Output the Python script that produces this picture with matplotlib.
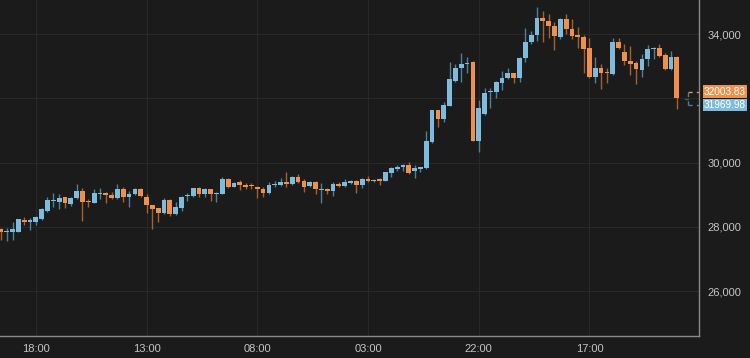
import numpy as np
import matplotlib
matplotlib.use("Agg")
import matplotlib.pyplot as plt

# hourly candles, first one at 12:00
opens = [27929, 27836, 27845, 27840, 28209, 28170, 28157, 28241, 28499, 28820,
         28779, 28916, 28708, 28885, 29122, 28801, 28739, 29030, 29050, 28988,
         28885, 29175, 28935, 29019, 29175, 28935, 28667, 28574, 28418, 28832,
         28387, 28593, 28955, 28957, 29196, 29019, 29175, 29030, 29019, 29477,
         29246, 29383, 29299, 29290, 29246, 29175, 29041, 29320, 29299, 29402,
         29321, 29558, 29424, 29268, 29402, 29165, 29175, 29112, 29310, 29278,
         29352, 29424, 29299, 29465, 29425, 29465, 29433, 29682, 29797, 29850,
         29922, 29744, 29788, 29819, 30647, 31634, 31345, 31768, 32546, 32932,
         33080, 33119, 30678, 31500, 32185, 32204, 32484, 32621, 32795, 32621,
         33244, 33760, 33969, 34489, 34405, 34249, 33916, 34457, 34146, 33950,
         33916, 33555, 32652, 32932, 32815, 32755, 33742, 33430, 33159, 33088,
         32879, 33222, 33524, 33574, 33346, 32910, 33293]
highs = [27960, 27960, 28157, 28250, 28303, 28272, 28344, 28583, 28935, 29050,
         29019, 28926, 28926, 29321, 29196, 28854, 29165, 29196, 29072, 29091,
         29330, 29228, 29112, 29215, 29196, 29019, 28686, 28593, 28885, 28863,
         28761, 28957, 29060, 29215, 29228, 29215, 29184, 29091, 29558, 29517,
         29402, 29455, 29352, 29352, 29268, 29246, 29383, 29424, 29508, 29713,
         29579, 29642, 29486, 29424, 29433, 29352, 29215, 29383, 29383, 29477,
         29455, 29455, 29508, 29579, 29486, 29508, 29713, 29869, 29922, 29953,
         30006, 29922, 29869, 30990, 31640, 31640, 31892, 33119, 33066, 33399,
         33293, 33159, 31945, 32328, 32310, 32537, 32848, 32932, 32800, 33293,
         34196, 34093, 34831, 34716, 34622, 34383, 34488, 34622, 34457, 34209,
         33969, 33885, 33275, 33057, 32932, 33866, 33866, 33679, 33626, 33159,
         33368, 33657, 33605, 33679, 33418, 33471, 33315]
lows = [27587, 27556, 27587, 27830, 28054, 27898, 28054, 28210, 28468, 28614,
        28552, 28593, 28655, 28863, 28178, 28614, 28729, 28863, 28748, 28863,
        28863, 28779, 28605, 28988, 28935, 28437, 27929, 28138, 28396, 28334,
        28365, 28499, 28810, 28915, 28935, 28935, 28810, 28761, 29010, 29196,
        29228, 29144, 29165, 29175, 28885, 28935, 29030, 29246, 29277, 29246,
        29299, 29352, 29091, 29228, 29019, 28729, 29019, 28966, 29228, 29246,
        29330, 29060, 29215, 29383, 29383, 29299, 29433, 29558, 29744, 29735,
        29642, 29526, 29695, 29797, 30597, 31114, 31270, 31760, 32496, 32515,
        32777, 30670, 30336, 31478, 31687, 32017, 32257, 32610, 32465, 32496,
        33138, 33679, 33782, 33760, 33866, 33502, 33835, 34000, 33844, 33555,
        32795, 32621, 32484, 32278, 32465, 32724, 33533, 33035, 32724, 32443,
        32652, 33013, 33222, 33275, 32895, 32879, 31665]
closes = [27836, 27867, 27929, 28241, 28147, 28185, 28303, 28552, 28832, 28840,
          28904, 28729, 28904, 29122, 28779, 28760, 29060, 29045, 28988, 28885,
          29175, 28935, 29019, 29175, 28957, 28667, 28561, 28418, 28832, 28396,
          28605, 28935, 28970, 29196, 29019, 29175, 29019, 29045, 29477, 29228,
          29352, 29299, 29228, 29270, 29165, 29041, 29299, 29335, 29402, 29321,
          29558, 29402, 29246, 29402, 29165, 29180, 29112, 29321, 29295, 29383,
          29433, 29299, 29477, 29450, 29440, 29445, 29695, 29819, 29869, 29922,
          29664, 29819, 29850, 30678, 31634, 31345, 31790, 32590, 32951, 33066,
          33095, 30678, 31687, 32179, 32225, 32496, 32640, 32795, 32621, 33244,
          33760, 33969, 34489, 34405, 34249, 33938, 34457, 34146, 33947, 33930,
          33524, 32652, 32932, 32777, 32800, 33742, 33574, 33159, 33057, 32901,
          33222, 33524, 33574, 33324, 32901, 33293, 32003.83]

last_price = 32003.83
bid_price = 31969.98

tick_labels = ["18:00", "13:00", "08:00", "03:00", "22:00", "17:00"]
y_ticks = [26000, 28000, 30000, 32000, 34000]

# colours
BG = "#1b1b1b"
UP = "#7dbcdc"
DOWN = "#ef914b"
UP_WICK = "#4f7f96"
DOWN_WICK = "#a0622f"
GRID = "#282828"
TXT = "#c4c4c4"

plt.rcParams["font.family"] = ["Liberation Sans Narrow", "Liberation Sans", "DejaVu Sans"]

o = np.array(opens, dtype=float)
h = np.array(highs, dtype=float)
l = np.array(lows, dtype=float)
c = np.array(closes, dtype=float)
x = np.arange(len(o))
up = c >= o

fig = plt.figure(figsize=(7.5, 3.58), dpi=100, facecolor=BG)
ax = fig.add_axes([0, 22 / 358, 699 / 750, 336 / 358])
ax.set_facecolor(BG)

# grid
tick_idx = np.arange(6, len(o), 19)[:len(tick_labels)]
for t in tick_idx:
    ax.axvline(t, color=GRID, lw=0.8, zorder=0)
for yv in y_ticks:
    ax.axhline(yv, color=GRID, lw=0.8, zorder=0)

# wicks then bodies
ax.vlines(x, l, h, colors=np.where(up, UP_WICK, DOWN_WICK), lw=1.0, zorder=2)
body_lo = np.minimum(o, c)
body_h = np.abs(c - o)
min_h = 38
body_lo = np.where(body_h < min_h, (o + c) / 2 - min_h / 2, body_lo)
body_h = np.maximum(body_h, min_h)
ax.bar(x, body_h, bottom=body_lo, width=0.82,
       color=np.where(up, UP, DOWN), edgecolor="none", zorder=3)

ax.set_xlim(-0.15, 119.8)
ax.set_ylim(24600, 35060)

# current price box (dashed)
x0 = len(o) + 0.9
ax.plot([x0, 119.8], [last_price + 185, last_price + 185], color=DOWN, lw=1, ls=(0, (3, 3)), zorder=2)
ax.plot([x0, 119.8], [bid_price - 185, bid_price - 185], color=UP_WICK, lw=1, ls=(0, (3, 3)), zorder=2)
ax.plot([x0, x0], [bid_price - 185, last_price + 185], color=UP_WICK, lw=1, ls=(0, (3, 3)), zorder=2)
ax.plot([x0 - 0.5, x0], [last_price - 20, last_price - 20], color="#555555", lw=1, zorder=2)

# axes styling
for side in ["left", "top"]:
    ax.spines[side].set_visible(False)
for side in ["right", "bottom"]:
    ax.spines[side].set_color("#8a8a8a")
    ax.spines[side].set_linewidth(1.0)

ax.yaxis.tick_right()
ax.set_yticks(y_ticks)
# the 32,000 label sits under the price tags, so it is not shown
ax.set_yticklabels([f"{v:,}" if abs(v - last_price) > 500 else "" for v in y_ticks])
ax.set_xticks(tick_idx)
ax.set_xticklabels(tick_labels)
ax.tick_params(axis="both", length=0, colors=TXT, labelsize=8)
ax.tick_params(axis="y", pad=6)
ax.tick_params(axis="x", pad=6)

# price tags on the right
yax = ax.get_yaxis_transform()
ax.annotate(f"{last_price:.2f}", xy=(1, last_price), xycoords=yax,
            xytext=(3.5, 4.7), textcoords="offset points", va="center", ha="left",
            color="white", fontsize=7.2, annotation_clip=False, zorder=5,
            bbox=dict(boxstyle="square,pad=0.12", fc=DOWN, ec="none"))
ax.annotate(f"{bid_price:.2f}", xy=(1, bid_price), xycoords=yax,
            xytext=(3.5, -4.1), textcoords="offset points", va="center", ha="left",
            color="white", fontsize=7.2, annotation_clip=False, zorder=5,
            bbox=dict(boxstyle="square,pad=0.12", fc=UP, ec="none"))

fig.savefig("out.png", dpi=100, facecolor=BG)
